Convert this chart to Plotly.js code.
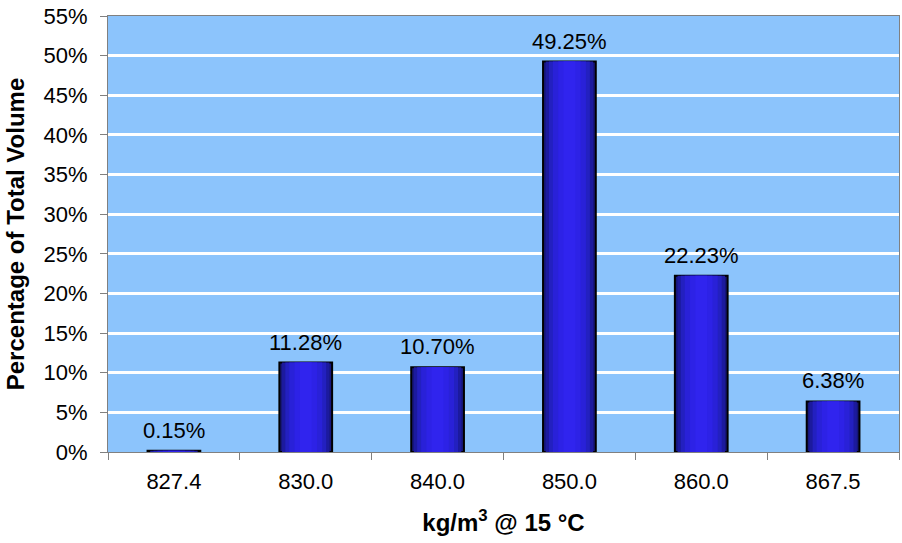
<!DOCTYPE html>
<html>
<head>
<meta charset="utf-8">
<script src="https://cdn.plot.ly/plotly-3.0.1.min.js"></script>
<style>html,body{margin:0;padding:0;background:#fff;}#chart{width:902px;height:543px;}</style>
</head>
<body>
<div id="chart"></div>
<script>
const categories = ["827.4", "830.0", "840.0", "850.0", "860.0", "867.5"];
const values = [0.15, 11.28, 10.70, 49.25, 22.23, 6.38];
const valueLabels = ["0.15%", "11.28%", "10.70%", "49.25%", "22.23%", "6.38%"];
const yTickValues = [0,5,10,15,20,25,30,35,40,45,50,55];
const yTickLabels = yTickValues.map(v => v + "%");

const font = "Liberation Sans, Arial, sans-serif";
// stepped layers to imitate horizontal gradient of the bars
const layers = [
  {w: 0.40, c: "#16167a"},
  {w: 0.36, c: "#1c1a9e"},
  {w: 0.31, c: "#2320c0"},
  {w: 0.25, c: "#2921d8"},
  {w: 0.17, c: "#2d22e6"},
  {w: 0.09, c: "#3024ee"}
];
const traces = layers.map((L, i) => ({
  type: "bar",
  x: categories,
  y: values,
  width: categories.map(() => L.w),
  marker: {color: L.c, line: {color: i === 0 ? "#000" : L.c, width: i === 0 ? 2 : 0}},
  hoverinfo: "skip",
  showlegend: false
}));

// annotation x uses the category index on the category axis
const annotations = categories.map((c, i) => ({
  x: i, y: values[i], text: valueLabels[i],
  xref: "x", yref: "y", showarrow: false,
  yanchor: "bottom", yshift: 6,
  font: {family: font, size: 22, color: "#000"}
}));

const layout = {
  width: 902, height: 543,
  margin: {l: 108, r: 3, t: 16, b: 91},
  paper_bgcolor: "#ffffff",
  plot_bgcolor: "#8cc4fc",
  barmode: "overlay",
  font: {family: font, size: 22, color: "#000"},
  annotations: annotations,
  xaxis: {
    type: "category",
    categoryarray: categories,
    range: [-0.5, categories.length - 0.5],
    tickson: "boundaries",
    ticks: "outside", ticklen: 7, tickcolor: "#808080",
    showline: true, linecolor: "#808080", linewidth: 1, mirror: true,
    tickfont: {family: font, size: 22},
    tickangle: 0,
    ticklabelstandoff: 10,
    title: {text: "kg/m<sup>3</sup> @ 15 °C", font: {family: font, size: 24, color: "#000", weight: "bold"}, standoff: 20},
    showgrid: false, zeroline: false
  },
  yaxis: {
    range: [0, 55],
    tickvals: yTickValues, ticktext: yTickLabels,
    ticks: "outside", ticklen: 7, tickcolor: "#808080",
    showline: true, linecolor: "#808080", linewidth: 1, mirror: true,
    showgrid: true, gridcolor: "#ffffff", gridwidth: 3,
    zeroline: false,
    tickfont: {family: font, size: 22},
    ticklabelstandoff: 8,
    title: {text: "Percentage of Total Volume", font: {family: font, size: 24, color: "#000", weight: "bold"}, standoff: 12}
  }
};
Plotly.newPlot("chart", traces, layout, {displayModeBar: false, staticPlot: true});
</script>
</body>
</html>
